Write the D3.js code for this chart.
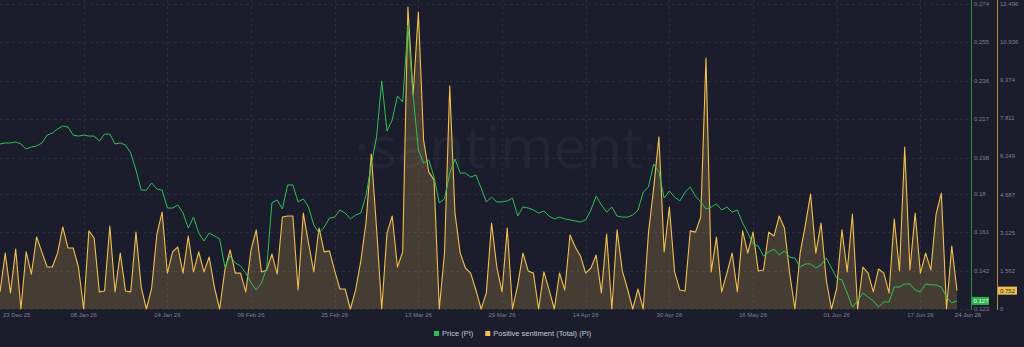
<!DOCTYPE html>
<html>
<head>
<meta charset="utf-8">
<script src="https://cdn.jsdelivr.net/npm/d3@7"></script>
<style>
  body { margin: 0; background: #1b1d2d; }
  svg { display: block; }
</style>
</head>
<body>
<div id="chart"></div>
<script>
// daily points, 23 Dec 25 .. 24 Jun 26
var startDay = "2025-12-23", endDay = "2026-06-24";

var price = [
  0.2047, 0.2052, 0.2052, 0.2057, 0.2047, 0.2022, 0.2032, 0.2037, 0.2052, 0.2091,
  0.2101, 0.2121, 0.2136, 0.2131, 0.2091, 0.2086, 0.2091, 0.2086, 0.2086, 0.2062,
  0.2096, 0.2096, 0.2047, 0.2052, 0.2042, 0.2002, 0.1918, 0.1819, 0.1819, 0.1854,
  0.1824, 0.1819, 0.1730, 0.1730, 0.1745, 0.1705, 0.1631, 0.1685, 0.1606, 0.1567,
  0.1606, 0.1591, 0.1577, 0.1438, 0.1492, 0.1458, 0.1443, 0.1408, 0.1359, 0.1324,
  0.1359, 0.1433, 0.1755, 0.1770, 0.1725, 0.1844, 0.1844, 0.1760, 0.1775, 0.1735,
  0.1646, 0.1606, 0.1636, 0.1680, 0.1685, 0.1720, 0.1705, 0.1676, 0.1695, 0.1705,
  0.1794, 0.1943, 0.2081, 0.2359, 0.2111, 0.2166, 0.2284, 0.2255, 0.2636, 0.2289,
  0.2017, 0.1953, 0.1968, 0.1883, 0.1755, 0.1775, 0.1903, 0.1973, 0.1903, 0.1903,
  0.1883, 0.1893, 0.1829, 0.1760, 0.1784, 0.1760, 0.1760, 0.1765, 0.1779, 0.1690,
  0.1735, 0.1730, 0.1720, 0.1705, 0.1715, 0.1690, 0.1676, 0.1685, 0.1676, 0.1671,
  0.1666, 0.1661, 0.1671, 0.1720, 0.1789, 0.1745, 0.1710, 0.1735, 0.1690, 0.1685,
  0.1685, 0.1695, 0.1720, 0.1809, 0.1834, 0.1948, 0.1908, 0.1779, 0.1814, 0.1784,
  0.1765, 0.1809, 0.1834, 0.1789, 0.1760, 0.1725, 0.1735, 0.1750, 0.1720, 0.1735,
  0.1710, 0.1720, 0.1656, 0.1606, 0.1552, 0.1542, 0.1492, 0.1512, 0.1527, 0.1497,
  0.1517, 0.1487, 0.1482, 0.1438, 0.1453, 0.1453, 0.1433, 0.1448, 0.1482, 0.1433,
  0.1383, 0.1374, 0.1309, 0.1240, 0.1270, 0.1309, 0.1289, 0.1270, 0.1240, 0.1265,
  0.1265, 0.1339, 0.1339, 0.1354, 0.1354, 0.1324, 0.1314, 0.1354, 0.1349, 0.1349,
  0.1339, 0.1289, 0.1260, 0.1270
];

var sentiment = [
  0.70, 2.29, 0.66, 2.46, 0, 2.34, 1.43, 2.95, 2.34, 1.72,
  1.72, 2.29, 3.36, 2.50, 2.50, 1.72, 0, 3.20, 2.91, 0.70,
  0.74, 3.40, 0.70, 2.29, 0.74, 0.70, 3.15, 0.90, 0, 0.86,
  3.07, 3.97, 1.47, 2.34, 2.54, 1.47, 2.99, 1.52, 2.34, 1.52,
  2.13, 0.90, 0, 1.60, 2.42, 1.47, 1.47, 0.70, 2.42, 3.24,
  1.52, 1.60, 2.25, 1.43, 3.77, 3.81, 3.81, 0.78, 3.93, 2.70,
  1.52, 3.32, 2.34, 2.38, 1.56, 0.82, 0.82, 0, 0.78, 1.97,
  3.56, 6.35, 3.32, 0, 3.11, 3.81, 1.72, 2.34, 12.37, 8.77,
  12.17, 6.92, 5.61, 5.29, 0, 2.29, 9.14, 3.93, 2.29, 1.68,
  1.47, 0.78, 0, 0.66, 3.52, 1.72, 0.70, 3.32, 0, 0.98,
  2.29, 1.56, 1.47, 0, 1.52, 0.78, 0, 1.47, 0.78, 3.03,
  2.54, 2.17, 1.47, 1.68, 2.21, 0.66, 3.07, 0, 3.24, 1.56,
  0.82, 0, 0.82, 0, 3.11, 4.96, 7.05, 2.34, 4.18, 1.52,
  0.78, 0.74, 3.20, 3.15, 3.77, 10.28, 1.52, 2.95, 0.70, 1.47,
  2.29, 0.70, 3.20, 2.29, 3.15, 1.56, 1.60, 3.15, 2.99, 3.81,
  3.32, 1.47, 0, 2.29, 3.44, 4.71, 2.29, 3.52, 1.19, 0,
  0.86, 3.24, 1.52, 3.89, 0, 1.72, 1.47, 0.70, 1.64, 1.47,
  0.66, 3.69, 1.56, 6.64, 1.60, 3.93, 1.47, 2.29, 1.60, 3.89,
  4.75, 0, 2.58, 0.752
];

var dateTicks = ["2025-12-23", "2026-01-08", "2026-01-24", "2026-02-09", "2026-02-25",
                 "2026-03-13", "2026-03-29", "2026-04-14", "2026-04-30", "2026-05-16",
                 "2026-06-01", "2026-06-17"];
var priceTicks = [0.123, 0.142, 0.161, 0.18, 0.198, 0.217, 0.236, 0.255, 0.274];
var sentTicks = [0, 1.562, 3.125, 4.687, 6.249, 7.811, 9.374, 10.936, 12.496];

var legendItems = [
  {name: "Price (PI)", color: "#2fbf55"},
  {name: "Positive sentiment (Total) (PI)", color: "#f5c04c"}
];

var width = 1024, height = 347;
var plotRight = 957, plotBottom = 309, plotTop = 4;
var green = "#2fbf55", yellow = "#f2bf4e";

var parseDay = d3.timeParse("%Y-%m-%d");
var fmtDay = d3.timeFormat("%d %b %y");
var days = d3.timeDay.range(parseDay(startDay), d3.timeDay.offset(parseDay(endDay), 1));

var data = days.map(function(d, i) {
  return {date: d, price: price[i], sent: sentiment[i]};
});

var x = d3.scaleTime()
  .domain([days[0], days[days.length - 1]])
  .range([0, plotRight]);
var yP = d3.scaleLinear().domain([0.123, 0.274]).range([plotBottom, plotTop]);
var yS = d3.scaleLinear().domain([0, 12.496]).range([plotBottom, plotTop]);

var svg = d3.select("#chart").append("svg")
  .attr("width", width)
  .attr("height", height)
  .style("font-family", "'Liberation Sans', Arial, sans-serif");

svg.append("rect").attr("width", width).attr("height", height).attr("fill", "#1b1d2d");

// grid
svg.append("g").selectAll("line")
  .data(priceTicks)
  .enter().append("line")
  .attr("x1", 0).attr("x2", 970)
  .attr("y1", function(d) { return Math.round(yP(d)) + 0.5; })
  .attr("y2", function(d) { return Math.round(yP(d)) + 0.5; })
  .attr("stroke", "#292c3f")
  .attr("stroke-dasharray", "3,3");

svg.append("g").selectAll("line")
  .data(dateTicks.slice(1))
  .enter().append("line")
  .attr("x1", function(d) { return Math.round(x(parseDay(d))) + 0.5; })
  .attr("x2", function(d) { return Math.round(x(parseDay(d))) + 0.5; })
  .attr("y1", 0).attr("y2", plotBottom)
  .attr("stroke", "#292c3f")
  .attr("stroke-dasharray", "3,3");

// watermark
svg.append("text")
  .attr("x", 506).attr("y", 168)
  .attr("text-anchor", "middle")
  .attr("font-family", "'Open Sans', sans-serif")
  .attr("font-size", 58)
  .attr("fill", "#ffffff")
  .attr("fill-opacity", 0.04)
  .text("·santiment·");

// sentiment area + line
var area = d3.area()
  .x(function(d) { return x(d.date); })
  .y0(plotBottom)
  .y1(function(d) { return yS(d.sent); });

var sLine = d3.line()
  .x(function(d) { return x(d.date); })
  .y(function(d) { return yS(d.sent); });

svg.append("path")
  .datum(data)
  .attr("d", area)
  .attr("fill", yellow)
  .attr("fill-opacity", 0.2);

svg.append("path")
  .datum(data)
  .attr("d", sLine)
  .attr("fill", "none")
  .attr("stroke", yellow)
  .attr("stroke-width", 1.1)
  .attr("stroke-linejoin", "round");

// price line
var pLine = d3.line()
  .x(function(d) { return x(d.date); })
  .y(function(d) { return yP(d.price); });

svg.append("path")
  .datum(data)
  .attr("d", pLine)
  .attr("fill", "none")
  .attr("stroke", green)
  .attr("stroke-width", 1)
  .attr("stroke-linejoin", "round");

// x axis labels
svg.append("g").selectAll("text")
  .data(dateTicks)
  .enter().append("text")
  .attr("x", function(d, i) { return i == 0 ? 3 : x(parseDay(d)); })
  .attr("y", 317)
  .attr("text-anchor", function(d, i) { return i == 0 ? "start" : "middle"; })
  .attr("font-size", 6)
  .attr("fill", "#7d8092")
  .text(function(d) { return fmtDay(parseDay(d)); });

svg.append("text")
  .attr("x", x(days[days.length - 1]) + 11)
  .attr("y", 317)
  .attr("text-anchor", "middle")
  .attr("font-size", 6)
  .attr("fill", "#8a8d9e")
  .text(fmtDay(days[days.length - 1]));

// right axes
var axisP = 971, axisS = 997;
svg.append("line")
  .attr("x1", axisP + 0.5).attr("x2", axisP + 0.5)
  .attr("y1", 0).attr("y2", plotBottom + 1)
  .attr("stroke", green).attr("stroke-opacity", 0.7);
svg.append("line")
  .attr("x1", axisS + 0.5).attr("x2", axisS + 0.5)
  .attr("y1", 0).attr("y2", plotBottom + 1)
  .attr("stroke", yellow).attr("stroke-opacity", 0.7);

svg.append("g").selectAll("text")
  .data(priceTicks)
  .enter().append("text")
  .attr("x", axisP + 3)
  .attr("y", function(d) { return yP(d) + 2; })
  .attr("font-size", 6)
  .attr("fill", "#7d8092")
  .text(function(d) { return d; });

svg.append("g").selectAll("text")
  .data(sentTicks)
  .enter().append("text")
  .attr("x", axisS + 3)
  .attr("y", function(d) { return yS(d) + 2; })
  .attr("font-size", 6)
  .attr("fill", "#7d8092")
  .text(function(d) { return d; });

// last value badges
var lastP = price[price.length - 1], lastS = sentiment[sentiment.length - 1];
svg.append("rect")
  .attr("x", axisP + 1).attr("y", yP(lastP) - 4)
  .attr("width", 17).attr("height", 8)
  .attr("fill", "#27b347");
svg.append("text")
  .attr("x", axisP + 2.5).attr("y", yP(lastP) + 2)
  .attr("font-size", 6).attr("fill", "#ffffff")
  .text(lastP.toFixed(3));
svg.append("rect")
  .attr("x", axisS + 1).attr("y", yS(lastS) - 4)
  .attr("width", 19).attr("height", 8)
  .attr("fill", yellow);
svg.append("text")
  .attr("x", axisS + 3).attr("y", yS(lastS) + 2)
  .attr("font-size", 6).attr("fill", "#1b1d2d")
  .text(lastS.toFixed(3));

// legend
var legend = svg.append("g");
var lx = 434;
legendItems.forEach(function(item) {
  var g = legend.append("g").attr("transform", "translate(" + lx + ",330)");
  g.append("rect").attr("width", 5).attr("height", 5).attr("y", 1).attr("fill", item.color);
  var t = g.append("text")
    .attr("x", 8).attr("y", 6)
    .attr("font-size", 7.5)
    .attr("fill", "#c5c7d2")
    .text(item.name);
  lx += 8 + t.node().getComputedTextLength() + 12;
});
</script>
</body>
</html>
